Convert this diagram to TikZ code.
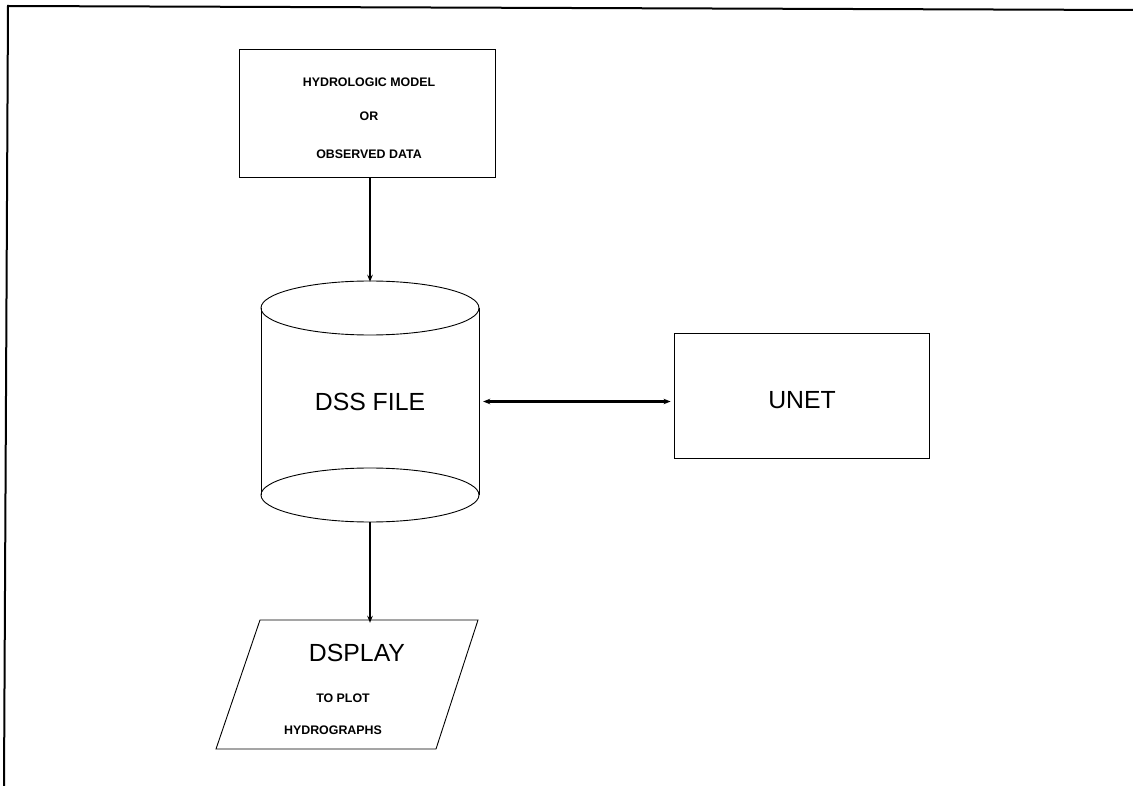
\documentclass[tikz,border=0pt]{standalone}
\usepackage{fontspec}
\setmainfont{Liberation Sans}
\usetikzlibrary{arrows.meta}
\begin{document}
\begin{tikzpicture}[x=1pt,y=-1pt,
  box/.style={draw, line width=0.9pt, inner sep=0pt},
  ghost/.style={inner sep=0pt},
  shapeline/.style={line width=0.9pt},
  tip/.style={arrows={-Stealth[length=7pt,width=5.5pt]}},
  conn/.style={line width=1.8pt, tip},
  biconn/.style={line width=2.2pt, arrows={Stealth[length=7pt,width=5.5pt]-Stealth[length=7pt,width=5.5pt]}},
  small/.style={font=\fontsize{12.4}{14}\selectfont\bfseries},
  big/.style={font=\fontsize{24.8}{28}\selectfont}]
\useasboundingbox (0,0) rectangle (1133,786);
% frame
\draw[line width=2pt] (4,786) -- (8,6) -- (1133,10);
% top box
\node[box, minimum width=256pt, minimum height=128pt] (hm) at (367,113) {};
\node[small] (hm1) at (369,82) {HYDROLOGIC MODEL};
\node[small] (hm2) at (369,116) {OR};
\node[small] (hm3) at (369,154) {OBSERVED DATA};
% cylinder
\node[ghost, minimum width=218pt, minimum height=241pt, big] (dss) at (370,401.5) {DSS FILE};
\draw[shapeline] (370,308) ellipse [x radius=109, y radius=27];
\draw[shapeline] (370,495) ellipse [x radius=109, y radius=27];
\draw[shapeline] (261,308) -- (261,495);
\draw[shapeline] (479,308) -- (479,495);
% UNET box
\node[box, minimum width=255pt, minimum height=125pt] (unet) at (801.5,395.5) {};
\node[big] (unettxt) at (802,400) {UNET};
% display parallelogram
\node[ghost, minimum width=218pt, minimum height=129pt] (disp) at (347,684.5) {};
\draw[shapeline] (260,620) -- (478,620) -- (436,749) -- (216,749) -- cycle;
\node[big] (d1) at (357,653) {DSPLAY};
\node[small] (d2) at (343,698) {TO PLOT};
\node[small] (d3) at (333,730) {HYDROGRAPHS};
% connectors
\draw[conn] (hm.south -| dss.north) -- ([yshift=-1pt]dss.north);
\draw[biconn] ([xshift=4pt]dss.east) -- ([xshift=-3pt]dss.east -| unet.west);
\draw[conn] (dss.south) -- ([yshift=-3pt]dss.south |- disp.north);
\end{tikzpicture}
\end{document}
